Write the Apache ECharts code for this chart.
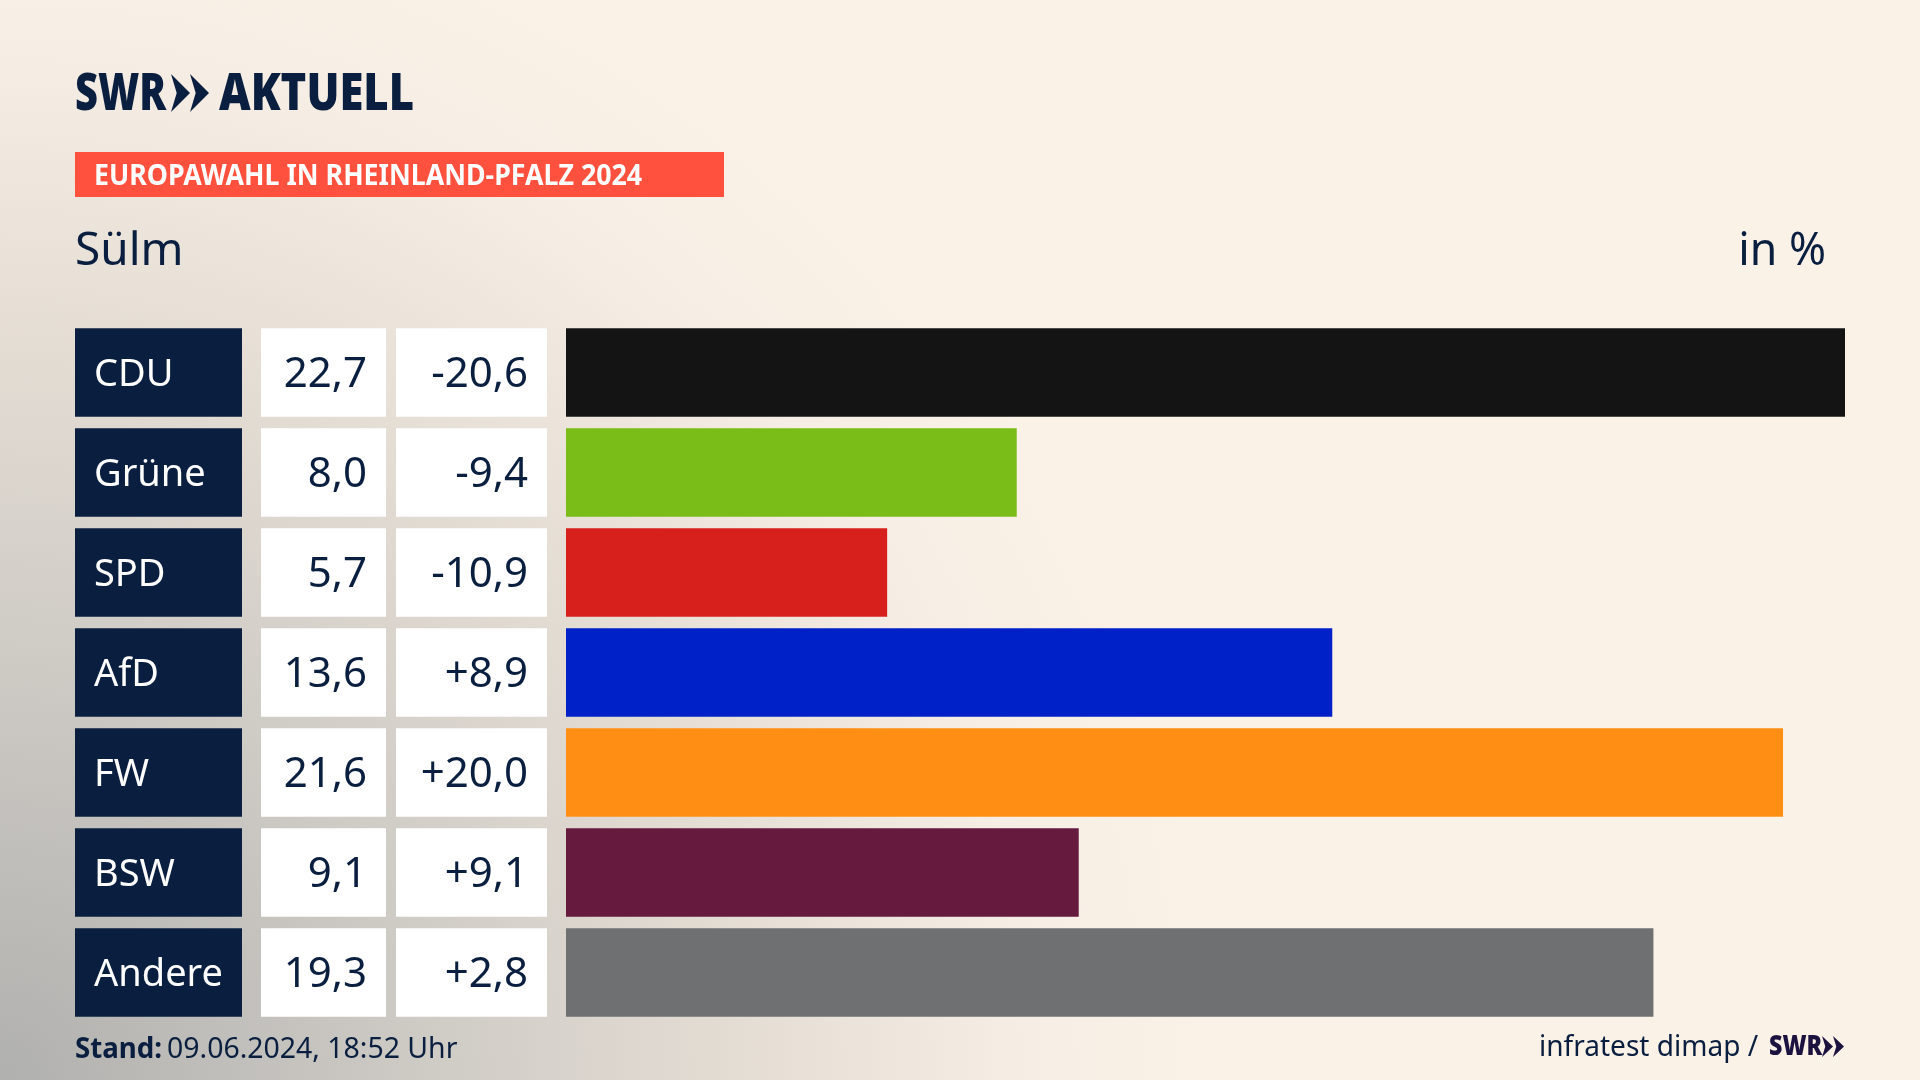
<!DOCTYPE html>
<html>
<head>
<meta charset="utf-8">
<script src="https://cdn.jsdelivr.net/npm/echarts@6/dist/echarts.min.js"></script>
<style>
  html, body { margin: 0; padding: 0; background: #faf1e7; }
  #chart { width: 1920px; height: 1080px; }
</style>
</head>
<body>
<div id="chart"></div>
<script>
const parties = ['CDU', 'Grüne', 'SPD', 'AfD', 'FW', 'BSW', 'Andere'];
const results = [22.7, 8.0, 5.7, 13.6, 21.6, 9.1, 19.3];
const changes = [-20.6, -9.4, -10.9, 8.9, 20.0, 9.1, 2.8];
const barColors = ['#141414', '#7abd18', '#d7201c', '#0020c8', '#ff8f14', '#661a3e', '#6f7072'];
const cellFill = [1, 1, 1, 1, 1, 1, 1];

const NAVY = '#0a1f3f';
const FONT = '"Noto Sans", sans-serif';

// Zahlen im deutschen Format
const fmt = v => v.toFixed(1).replace('.', ',');
const fmtChange = v => (v > 0 ? '+' : '') + fmt(v);

const chart = echarts.init(document.getElementById('chart'), null, { renderer: 'canvas' });

const GRID_TOP = 322.5;
const GRID_H = 700;
const ROW_H = 88.5;

const grids = [
  { left: 75, width: 167, top: GRID_TOP, height: GRID_H },
  { left: 261, width: 125, top: GRID_TOP, height: GRID_H },
  { left: 396, width: 151, top: GRID_TOP, height: GRID_H },
  { left: 566, width: 1279, top: GRID_TOP, height: GRID_H }
];

const xAxes = grids.map((g, i) => ({
  type: 'value', gridIndex: i, min: 0, max: i === 3 ? 22.7 : 1, show: false
}));
const yAxes = grids.map((g, i) => ({
  type: 'category', gridIndex: i, data: parties, inverse: true, show: false
}));

// Tabellenzellen als Balken über die ganze Breite
function cellSeries(idx, color, position, textColor, fontSize, labelOf) {
  return {
    type: 'bar',
    xAxisIndex: idx,
    yAxisIndex: idx,
    data: cellFill,
    barWidth: ROW_H,
    silent: true,
    itemStyle: { color: color },
    label: {
      show: true,
      position: position,
      distance: 19,
      offset: [0, 3],
      color: textColor,
      fontFamily: FONT,
      fontSize: fontSize,
      formatter: p => labelOf(p.dataIndex)
    }
  };
}

function chevrons(x, top, bottom, w, color) {
  const mid = (top + bottom) / 2;
  return [0, 1].map(n => {
    const x0 = x + n * w;
    return {
      type: 'polygon',
      silent: true,
      shape: { points: [[x0, top], [x0 + w, mid], [x0, bottom], [x0 + w * 0.3, mid]] },
      style: { fill: color }
    };
  });
}

function label(text, x, y, font, fill, scaleX, align) {
  return {
    type: 'text',
    silent: true,
    x: x,
    y: y,
    scaleX: scaleX || 1,
    style: { text: text, x: 0, y: 0, font: font, fill: fill, align: align || 'left', verticalAlign: 'middle' }
  };
}

const option = {
  animation: false,
  backgroundColor: new echarts.graphic.RadialGradient(0, 1, 1.12, [
    { offset: 0, color: '#b0b0ae' },
    { offset: 0.3, color: '#cac7c2' },
    { offset: 0.6, color: '#e3dcd3' },
    { offset: 0.85, color: '#f6eee4' },
    { offset: 1, color: '#faf1e7' }
  ]),
  grid: grids,
  xAxis: xAxes,
  yAxis: yAxes,
  series: [
    cellSeries(0, NAVY, 'insideLeft', '#ffffff', 38, i => parties[i]),
    cellSeries(1, '#ffffff', 'insideRight', NAVY, 42, i => fmt(results[i])),
    cellSeries(2, '#ffffff', 'insideRight', NAVY, 42, i => fmtChange(changes[i])),
    {
      type: 'bar',
      xAxisIndex: 3,
      yAxisIndex: 3,
      data: results.map((v, i) => ({ value: v, itemStyle: { color: barColors[i] } })),
      barWidth: ROW_H,
      silent: true
    }
  ],
  graphic: [
    label('SWR', 75, 95, `900 51px ${FONT}`, NAVY, 0.78),
    ...chevrons(171, 74, 112, 19, NAVY),
    label('AKTUELL', 219, 95, `900 51px ${FONT}`, NAVY, 0.855),
    { type: 'rect', silent: true, shape: { x: 75, y: 152, width: 649, height: 45 }, style: { fill: '#ff513d' } },
    label('EUROPAWAHL IN RHEINLAND-PFALZ 2024', 94, 177, `bold 28px ${FONT}`, '#ffffff', 0.956),
    label('Sülm', 75, 252, `46px ${FONT}`, NAVY, 1),
    label('in %', 1826, 252, `46px ${FONT}`, NAVY, 0.97, 'right'),
    label('Stand:', 75, 1050, `bold 29px ${FONT}`, NAVY, 0.955),
    label('09.06.2024, 18:52 Uhr', 167, 1050, `29px ${FONT}`, NAVY, 0.98),
    label('infratest dimap /', 1539, 1048, `29px ${FONT}`, NAVY, 0.967),
    label('SWR', 1769, 1047, `900 29px ${FONT}`, '#1c1240', 0.8),
    ...chevrons(1822, 1036, 1057, 11, '#1c1240')
  ]
};

chart.setOption(option);
</script>
</body>
</html>
